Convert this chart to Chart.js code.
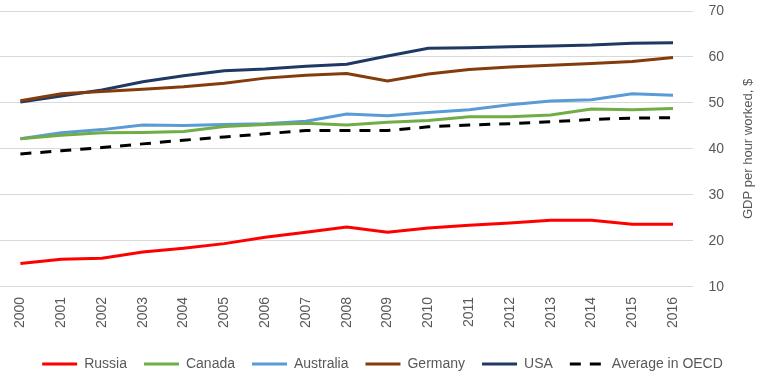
<!DOCTYPE html>
<html>
<head>
<meta charset="utf-8">
<script src="https://cdn.jsdelivr.net/npm/chart.js@4/dist/chart.umd.min.js"></script>
<style>
  html, body { margin: 0; padding: 0; background: #fff; }
  #wrap { width: 765px; height: 384px; }
</style>
</head>
<body>
<div id="wrap"><canvas id="chart"></canvas></div>
<script>
const years = ['2000', '2001', '2002', '2003', '2004', '2005', '2006', '2007', '2008',
  '2009', '2010', '2011', '2012', '2013', '2014', '2015', '2016'];

const russia = [15.1, 16.0, 16.2, 17.6, 18.4, 19.4, 20.8, 21.9, 23.0, 21.9, 22.8, 23.4, 23.9, 24.5, 24.5, 23.6, 23.6];
const canada = [42.2, 43.0, 43.5, 43.6, 43.8, 44.9, 45.3, 45.6, 45.2, 45.8, 46.2, 47.0, 47.0, 47.4, 48.7, 48.5, 48.8];
const australia = [42.2, 43.5, 44.2, 45.2, 45.1, 45.3, 45.5, 46.0, 47.6, 47.2, 47.9, 48.5, 49.6, 50.4, 50.7, 52.0, 51.7];
const germany = [50.5, 52.0, 52.5, 53.0, 53.5, 54.3, 55.4, 56.0, 56.4, 54.8, 56.3, 57.3, 57.8, 58.2, 58.6, 59.0, 59.9];
const usa = [50.2, 51.5, 52.8, 54.6, 55.9, 57.0, 57.4, 58.0, 58.4, 60.2, 61.9, 62.0, 62.2, 62.4, 62.6, 63.0, 63.1];
const oecd = [38.9, 39.6, 40.3, 41.1, 41.9, 42.6, 43.3, 44.0, 44.0, 44.0, 44.8, 45.2, 45.5, 45.9, 46.4, 46.7, 46.8];

const yTicks = [10, 20, 30, 40, 50, 60, 70];
const yTitle = 'GDP per hour worked, $';

const textColor = '#595959';
const font = 'Liberation Sans, Arial, sans-serif';

function series(label, data, color, dash) {
  return {
    label: label,
    data: data,
    borderColor: color,
    backgroundColor: color,
    borderWidth: 3,
    borderDash: dash || [],
    pointRadius: 0,
    pointHoverRadius: 0,
    tension: 0,
    fill: false
  };
}

// axis title on the right, reading bottom to top
const sideTitle = {
  id: 'sideTitle',
  afterDraw(chart) {
    const c = chart.ctx;
    const area = chart.chartArea;
    c.save();
    c.translate(748, (area.top + area.bottom) / 2);
    c.rotate(-Math.PI / 2);
    c.fillStyle = textColor;
    c.font = '13px ' + font;
    c.textAlign = 'center';
    c.textBaseline = 'middle';
    c.fillText(yTitle, 0, 0);
    c.restore();
  }
};

const ctx = document.getElementById('chart').getContext('2d');
const chart = new Chart(ctx, {
  type: 'line',
  data: {
    labels: years,
    datasets: [
      series('Russia', russia, '#ff0000'),
      series('Canada', canada, '#70ad47'),
      series('Australia', australia, '#5b9bd5'),
      series('Germany', germany, '#843c0c'),
      series('USA', usa, '#1f3864'),
      series('Average in OECD', oecd, '#000000', [11, 9])
    ]
  },
  plugins: [sideTitle],
  options: {
    responsive: true,
    maintainAspectRatio: false,
    animation: false,
    layout: {
      padding: { top: 2, right: 0, bottom: 3, left: 0 }
    },
    plugins: {
      tooltip: { enabled: false },
      legend: {
        position: 'bottom',
        labels: {
          usePointStyle: true,
          pointStyle: 'line',
          pointStyleWidth: 35,
          padding: 17,
          color: textColor,
          font: { family: font, size: 14 },
          generateLabels: (ch) => Chart.defaults.plugins.legend.labels.generateLabels(ch).map((item) => {
            item.lineDash = ch.data.datasets[item.datasetIndex].borderDash;
            return item;
          })
        }
      }
    },
    scales: {
      x: {
        offset: true,
        grid: { display: false, drawTicks: false },
        border: { display: false },
        afterFit: (axis) => {
          axis.height += 2;
        },
        ticks: {
          color: textColor,
          font: { family: font, size: 14 },
          maxRotation: 90,
          minRotation: 90,
          padding: 10,
          autoSkip: false
        }
      },
      y: {
        position: 'right',
        min: 10,
        max: 70,
        afterBuildTicks: (axis) => {
          axis.ticks = yTicks.map(v => ({ value: v }));
        },
        afterFit: (axis) => {
          // room for the side title, and no extra top gap from tick padding
          axis.width += 26;
          axis.paddingTop = 11;
          axis.paddingBottom = 8;
        },
        grid: { color: '#d9d9d9', lineWidth: 1, drawTicks: false },
        border: { display: false },
        ticks: {
          color: textColor,
          font: { family: font, size: 14 },
          padding: 15
        }
      }
    }
  }
});
</script>
</body>
</html>
